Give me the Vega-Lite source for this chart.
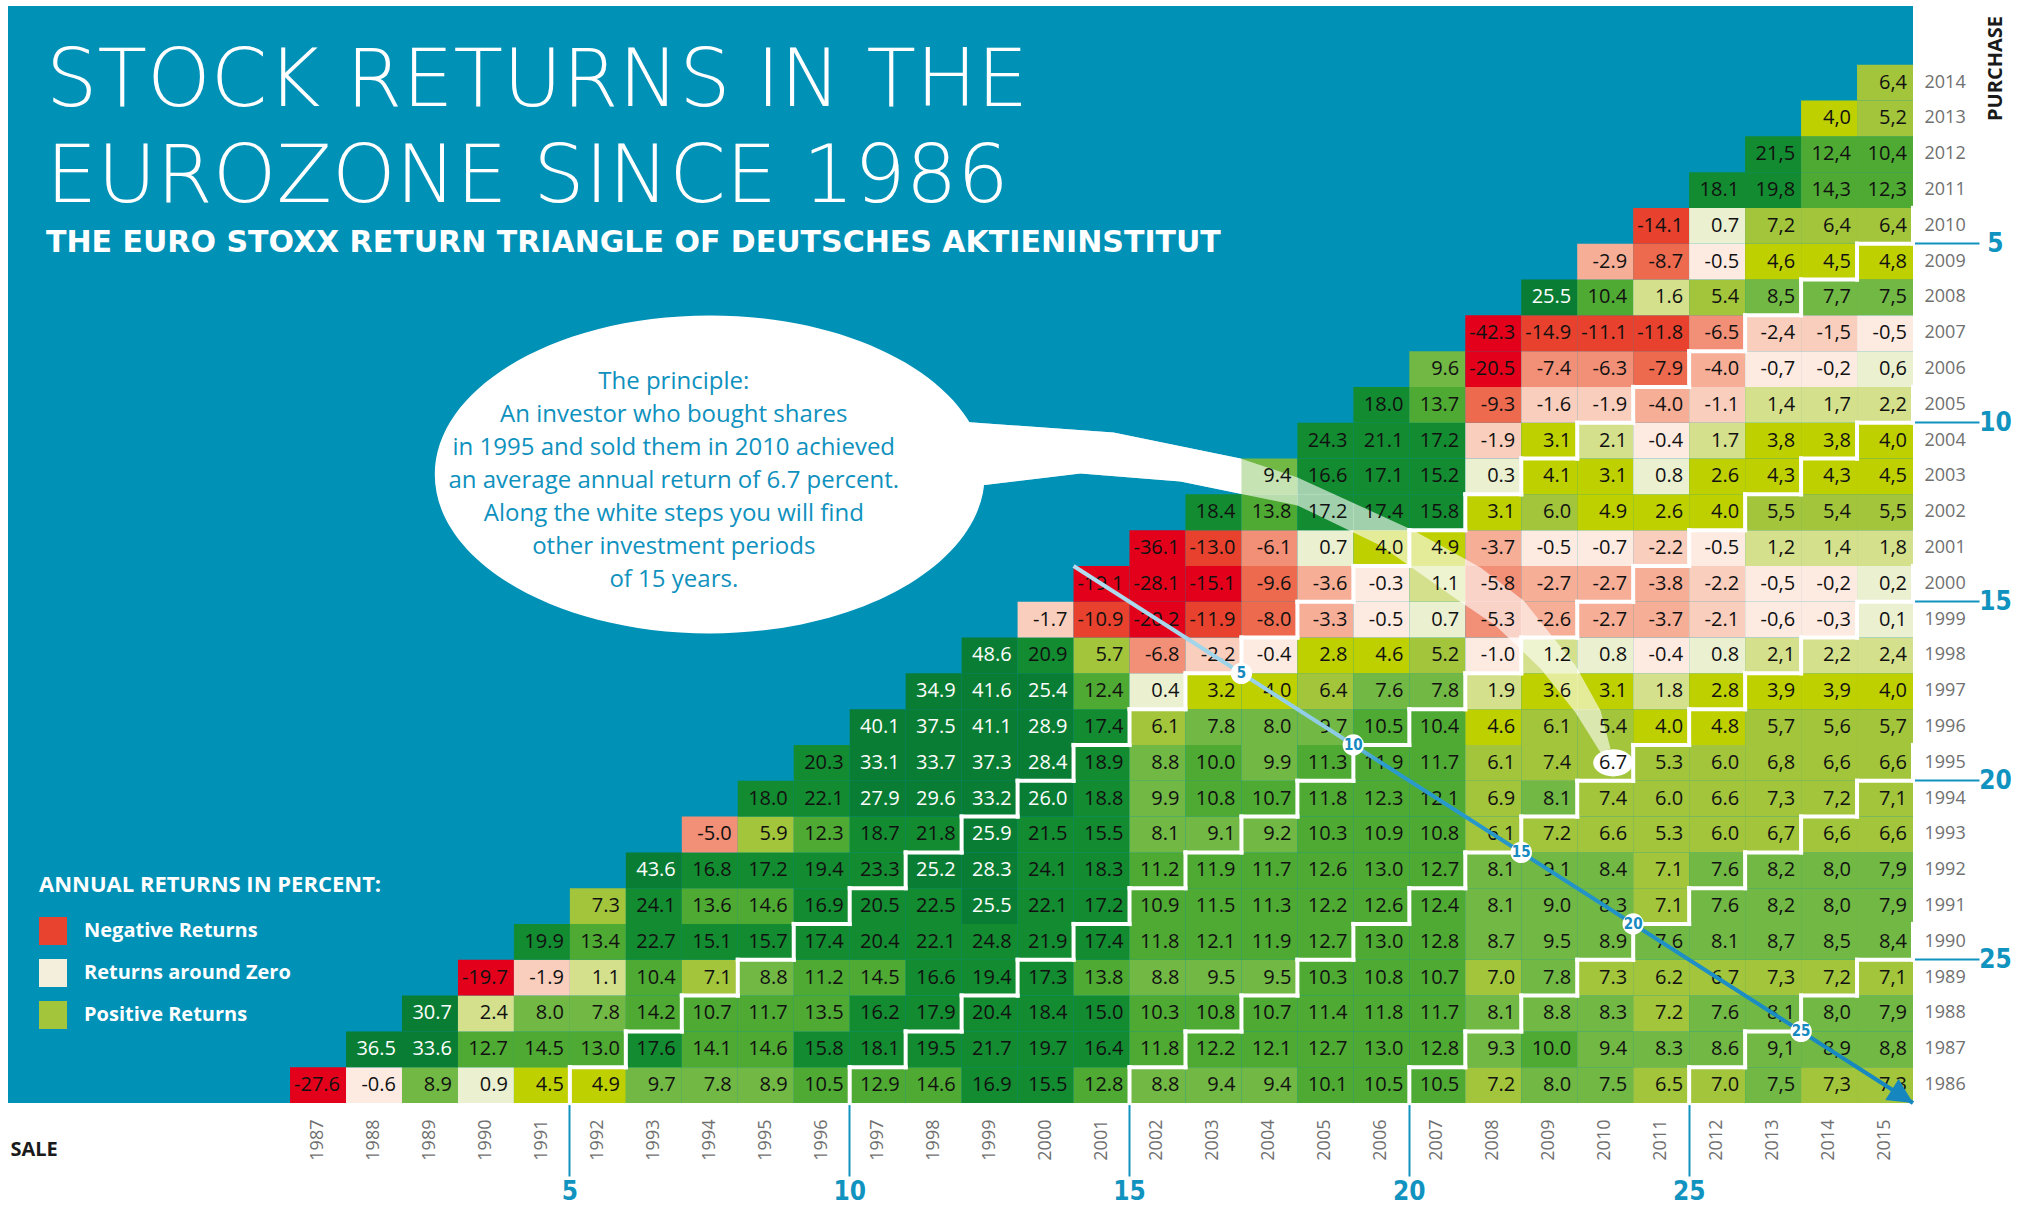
{
"$schema":"https://vega.github.io/schema/vega-lite/v6.json",
"width":1905,"height":1097,
"padding":{"left":8,"top":6,"right":0,"bottom":0},
"background":"white",
"view":{"fill":"#0091b7","stroke":null},
"title":{"text":["STOCK RETURNS IN THE","EUROZONE SINCE 1986"],"subtitle":"THE EURO STOXX RETURN TRIANGLE OF DEUTSCHES AKTIENINSTITUT","anchor":"start","frame":"group","orient":"top","offset":-253,"dx":38,"font":"DejaVu Sans","fontSize":81,"fontWeight":200,"color":"white","lineHeight":96,"subtitleFont":"DejaVu Sans","subtitleFontSize":30,"subtitleFontWeight":"bold","subtitleColor":"white","subtitlePadding":9},
"datasets":{
"steps":[{"k":"5","s":2003,"p":1997},{"k":"10","s":2005,"p":1995},{"k":"15","s":2008,"p":1992},{"k":"20","s":2010,"p":1990},{"k":"25","s":2013,"p":1987}],
"cells":[
{"p":1986,"s":1987,"v":-27.6,"t":"-27.6"},{"p":1986,"s":1988,"v":-0.6,"t":"-0.6"},{"p":1986,"s":1989,"v":8.9,"t":"8.9"},{"p":1986,"s":1990,"v":0.9,"t":"0.9"},{"p":1986,"s":1991,"v":4.5,"t":"4.5"},{"p":1986,"s":1992,"v":4.9,"t":"4.9"},{"p":1986,"s":1993,"v":9.7,"t":"9.7"},{"p":1986,"s":1994,"v":7.8,"t":"7.8"},{"p":1986,"s":1995,"v":8.9,"t":"8.9"},{"p":1986,"s":1996,"v":10.5,"t":"10.5"},{"p":1986,"s":1997,"v":12.9,"t":"12.9"},{"p":1986,"s":1998,"v":14.6,"t":"14.6"},{"p":1986,"s":1999,"v":16.9,"t":"16.9"},{"p":1986,"s":2000,"v":15.5,"t":"15.5"},{"p":1986,"s":2001,"v":12.8,"t":"12.8"},{"p":1986,"s":2002,"v":8.8,"t":"8.8"},{"p":1986,"s":2003,"v":9.4,"t":"9.4"},{"p":1986,"s":2004,"v":9.4,"t":"9.4"},{"p":1986,"s":2005,"v":10.1,"t":"10.1"},{"p":1986,"s":2006,"v":10.5,"t":"10.5"},{"p":1986,"s":2007,"v":10.5,"t":"10.5"},{"p":1986,"s":2008,"v":7.2,"t":"7.2"},{"p":1986,"s":2009,"v":8.0,"t":"8.0"},{"p":1986,"s":2010,"v":7.5,"t":"7.5"},{"p":1986,"s":2011,"v":6.5,"t":"6.5"},{"p":1986,"s":2012,"v":7.0,"t":"7.0"},{"p":1986,"s":2013,"v":7.5,"t":"7,5"},{"p":1986,"s":2014,"v":7.3,"t":"7,3"},{"p":1986,"s":2015,"v":7.3,"t":"7,3"},
{"p":1987,"s":1988,"v":36.5,"t":"36.5"},{"p":1987,"s":1989,"v":33.6,"t":"33.6"},{"p":1987,"s":1990,"v":12.7,"t":"12.7"},{"p":1987,"s":1991,"v":14.5,"t":"14.5"},{"p":1987,"s":1992,"v":13.0,"t":"13.0"},{"p":1987,"s":1993,"v":17.6,"t":"17.6"},{"p":1987,"s":1994,"v":14.1,"t":"14.1"},{"p":1987,"s":1995,"v":14.6,"t":"14.6"},{"p":1987,"s":1996,"v":15.8,"t":"15.8"},{"p":1987,"s":1997,"v":18.1,"t":"18.1"},{"p":1987,"s":1998,"v":19.5,"t":"19.5"},{"p":1987,"s":1999,"v":21.7,"t":"21.7"},{"p":1987,"s":2000,"v":19.7,"t":"19.7"},{"p":1987,"s":2001,"v":16.4,"t":"16.4"},{"p":1987,"s":2002,"v":11.8,"t":"11.8"},{"p":1987,"s":2003,"v":12.2,"t":"12.2"},{"p":1987,"s":2004,"v":12.1,"t":"12.1"},{"p":1987,"s":2005,"v":12.7,"t":"12.7"},{"p":1987,"s":2006,"v":13.0,"t":"13.0"},{"p":1987,"s":2007,"v":12.8,"t":"12.8"},{"p":1987,"s":2008,"v":9.3,"t":"9.3"},{"p":1987,"s":2009,"v":10.0,"t":"10.0"},{"p":1987,"s":2010,"v":9.4,"t":"9.4"},{"p":1987,"s":2011,"v":8.3,"t":"8.3"},{"p":1987,"s":2012,"v":8.6,"t":"8.6"},{"p":1987,"s":2013,"v":9.1,"t":"9,1"},{"p":1987,"s":2014,"v":8.9,"t":"8,9"},{"p":1987,"s":2015,"v":8.8,"t":"8,8"},
{"p":1988,"s":1989,"v":30.7,"t":"30.7"},{"p":1988,"s":1990,"v":2.4,"t":"2.4"},{"p":1988,"s":1991,"v":8.0,"t":"8.0"},{"p":1988,"s":1992,"v":7.8,"t":"7.8"},{"p":1988,"s":1993,"v":14.2,"t":"14.2"},{"p":1988,"s":1994,"v":10.7,"t":"10.7"},{"p":1988,"s":1995,"v":11.7,"t":"11.7"},{"p":1988,"s":1996,"v":13.5,"t":"13.5"},{"p":1988,"s":1997,"v":16.2,"t":"16.2"},{"p":1988,"s":1998,"v":17.9,"t":"17.9"},{"p":1988,"s":1999,"v":20.4,"t":"20.4"},{"p":1988,"s":2000,"v":18.4,"t":"18.4"},{"p":1988,"s":2001,"v":15.0,"t":"15.0"},{"p":1988,"s":2002,"v":10.3,"t":"10.3"},{"p":1988,"s":2003,"v":10.8,"t":"10.8"},{"p":1988,"s":2004,"v":10.7,"t":"10.7"},{"p":1988,"s":2005,"v":11.4,"t":"11.4"},{"p":1988,"s":2006,"v":11.8,"t":"11.8"},{"p":1988,"s":2007,"v":11.7,"t":"11.7"},{"p":1988,"s":2008,"v":8.1,"t":"8.1"},{"p":1988,"s":2009,"v":8.8,"t":"8.8"},{"p":1988,"s":2010,"v":8.3,"t":"8.3"},{"p":1988,"s":2011,"v":7.2,"t":"7.2"},{"p":1988,"s":2012,"v":7.6,"t":"7.6"},{"p":1988,"s":2013,"v":8.1,"t":"8,1"},{"p":1988,"s":2014,"v":8.0,"t":"8,0"},{"p":1988,"s":2015,"v":7.9,"t":"7,9"},
{"p":1989,"s":1990,"v":-19.7,"t":"-19.7"},{"p":1989,"s":1991,"v":-1.9,"t":"-1.9"},{"p":1989,"s":1992,"v":1.1,"t":"1.1"},{"p":1989,"s":1993,"v":10.4,"t":"10.4"},{"p":1989,"s":1994,"v":7.1,"t":"7.1"},{"p":1989,"s":1995,"v":8.8,"t":"8.8"},{"p":1989,"s":1996,"v":11.2,"t":"11.2"},{"p":1989,"s":1997,"v":14.5,"t":"14.5"},{"p":1989,"s":1998,"v":16.6,"t":"16.6"},{"p":1989,"s":1999,"v":19.4,"t":"19.4"},{"p":1989,"s":2000,"v":17.3,"t":"17.3"},{"p":1989,"s":2001,"v":13.8,"t":"13.8"},{"p":1989,"s":2002,"v":8.8,"t":"8.8"},{"p":1989,"s":2003,"v":9.5,"t":"9.5"},{"p":1989,"s":2004,"v":9.5,"t":"9.5"},{"p":1989,"s":2005,"v":10.3,"t":"10.3"},{"p":1989,"s":2006,"v":10.8,"t":"10.8"},{"p":1989,"s":2007,"v":10.7,"t":"10.7"},{"p":1989,"s":2008,"v":7.0,"t":"7.0"},{"p":1989,"s":2009,"v":7.8,"t":"7.8"},{"p":1989,"s":2010,"v":7.3,"t":"7.3"},{"p":1989,"s":2011,"v":6.2,"t":"6.2"},{"p":1989,"s":2012,"v":6.7,"t":"6.7"},{"p":1989,"s":2013,"v":7.3,"t":"7,3"},{"p":1989,"s":2014,"v":7.2,"t":"7,2"},{"p":1989,"s":2015,"v":7.1,"t":"7,1"},
{"p":1990,"s":1991,"v":19.9,"t":"19.9"},{"p":1990,"s":1992,"v":13.4,"t":"13.4"},{"p":1990,"s":1993,"v":22.7,"t":"22.7"},{"p":1990,"s":1994,"v":15.1,"t":"15.1"},{"p":1990,"s":1995,"v":15.7,"t":"15.7"},{"p":1990,"s":1996,"v":17.4,"t":"17.4"},{"p":1990,"s":1997,"v":20.4,"t":"20.4"},{"p":1990,"s":1998,"v":22.1,"t":"22.1"},{"p":1990,"s":1999,"v":24.8,"t":"24.8"},{"p":1990,"s":2000,"v":21.9,"t":"21.9"},{"p":1990,"s":2001,"v":17.4,"t":"17.4"},{"p":1990,"s":2002,"v":11.8,"t":"11.8"},{"p":1990,"s":2003,"v":12.1,"t":"12.1"},{"p":1990,"s":2004,"v":11.9,"t":"11.9"},{"p":1990,"s":2005,"v":12.7,"t":"12.7"},{"p":1990,"s":2006,"v":13.0,"t":"13.0"},{"p":1990,"s":2007,"v":12.8,"t":"12.8"},{"p":1990,"s":2008,"v":8.7,"t":"8.7"},{"p":1990,"s":2009,"v":9.5,"t":"9.5"},{"p":1990,"s":2010,"v":8.9,"t":"8.9"},{"p":1990,"s":2011,"v":7.6,"t":"7.6"},{"p":1990,"s":2012,"v":8.1,"t":"8.1"},{"p":1990,"s":2013,"v":8.7,"t":"8,7"},{"p":1990,"s":2014,"v":8.5,"t":"8,5"},{"p":1990,"s":2015,"v":8.4,"t":"8,4"},
{"p":1991,"s":1992,"v":7.3,"t":"7.3"},{"p":1991,"s":1993,"v":24.1,"t":"24.1"},{"p":1991,"s":1994,"v":13.6,"t":"13.6"},{"p":1991,"s":1995,"v":14.6,"t":"14.6"},{"p":1991,"s":1996,"v":16.9,"t":"16.9"},{"p":1991,"s":1997,"v":20.5,"t":"20.5"},{"p":1991,"s":1998,"v":22.5,"t":"22.5"},{"p":1991,"s":1999,"v":25.5,"t":"25.5"},{"p":1991,"s":2000,"v":22.1,"t":"22.1"},{"p":1991,"s":2001,"v":17.2,"t":"17.2"},{"p":1991,"s":2002,"v":10.9,"t":"10.9"},{"p":1991,"s":2003,"v":11.5,"t":"11.5"},{"p":1991,"s":2004,"v":11.3,"t":"11.3"},{"p":1991,"s":2005,"v":12.2,"t":"12.2"},{"p":1991,"s":2006,"v":12.6,"t":"12.6"},{"p":1991,"s":2007,"v":12.4,"t":"12.4"},{"p":1991,"s":2008,"v":8.1,"t":"8.1"},{"p":1991,"s":2009,"v":9.0,"t":"9.0"},{"p":1991,"s":2010,"v":8.3,"t":"8.3"},{"p":1991,"s":2011,"v":7.1,"t":"7.1"},{"p":1991,"s":2012,"v":7.6,"t":"7.6"},{"p":1991,"s":2013,"v":8.2,"t":"8,2"},{"p":1991,"s":2014,"v":8.0,"t":"8,0"},{"p":1991,"s":2015,"v":7.9,"t":"7,9"},
{"p":1992,"s":1993,"v":43.6,"t":"43.6"},{"p":1992,"s":1994,"v":16.8,"t":"16.8"},{"p":1992,"s":1995,"v":17.2,"t":"17.2"},{"p":1992,"s":1996,"v":19.4,"t":"19.4"},{"p":1992,"s":1997,"v":23.3,"t":"23.3"},{"p":1992,"s":1998,"v":25.2,"t":"25.2"},{"p":1992,"s":1999,"v":28.3,"t":"28.3"},{"p":1992,"s":2000,"v":24.1,"t":"24.1"},{"p":1992,"s":2001,"v":18.3,"t":"18.3"},{"p":1992,"s":2002,"v":11.2,"t":"11.2"},{"p":1992,"s":2003,"v":11.9,"t":"11.9"},{"p":1992,"s":2004,"v":11.7,"t":"11.7"},{"p":1992,"s":2005,"v":12.6,"t":"12.6"},{"p":1992,"s":2006,"v":13.0,"t":"13.0"},{"p":1992,"s":2007,"v":12.7,"t":"12.7"},{"p":1992,"s":2008,"v":8.1,"t":"8.1"},{"p":1992,"s":2009,"v":9.1,"t":"9.1"},{"p":1992,"s":2010,"v":8.4,"t":"8.4"},{"p":1992,"s":2011,"v":7.1,"t":"7.1"},{"p":1992,"s":2012,"v":7.6,"t":"7.6"},{"p":1992,"s":2013,"v":8.2,"t":"8,2"},{"p":1992,"s":2014,"v":8.0,"t":"8,0"},{"p":1992,"s":2015,"v":7.9,"t":"7,9"},
{"p":1993,"s":1994,"v":-5.0,"t":"-5.0"},{"p":1993,"s":1995,"v":5.9,"t":"5.9"},{"p":1993,"s":1996,"v":12.3,"t":"12.3"},{"p":1993,"s":1997,"v":18.7,"t":"18.7"},{"p":1993,"s":1998,"v":21.8,"t":"21.8"},{"p":1993,"s":1999,"v":25.9,"t":"25.9"},{"p":1993,"s":2000,"v":21.5,"t":"21.5"},{"p":1993,"s":2001,"v":15.5,"t":"15.5"},{"p":1993,"s":2002,"v":8.1,"t":"8.1"},{"p":1993,"s":2003,"v":9.1,"t":"9.1"},{"p":1993,"s":2004,"v":9.2,"t":"9.2"},{"p":1993,"s":2005,"v":10.3,"t":"10.3"},{"p":1993,"s":2006,"v":10.9,"t":"10.9"},{"p":1993,"s":2007,"v":10.8,"t":"10.8"},{"p":1993,"s":2008,"v":6.1,"t":"6.1"},{"p":1993,"s":2009,"v":7.2,"t":"7.2"},{"p":1993,"s":2010,"v":6.6,"t":"6.6"},{"p":1993,"s":2011,"v":5.3,"t":"5.3"},{"p":1993,"s":2012,"v":6.0,"t":"6.0"},{"p":1993,"s":2013,"v":6.7,"t":"6,7"},{"p":1993,"s":2014,"v":6.6,"t":"6,6"},{"p":1993,"s":2015,"v":6.6,"t":"6,6"},
{"p":1994,"s":1995,"v":18.0,"t":"18.0"},{"p":1994,"s":1996,"v":22.1,"t":"22.1"},{"p":1994,"s":1997,"v":27.9,"t":"27.9"},{"p":1994,"s":1998,"v":29.6,"t":"29.6"},{"p":1994,"s":1999,"v":33.2,"t":"33.2"},{"p":1994,"s":2000,"v":26.0,"t":"26.0"},{"p":1994,"s":2001,"v":18.8,"t":"18.8"},{"p":1994,"s":2002,"v":9.9,"t":"9.9"},{"p":1994,"s":2003,"v":10.8,"t":"10.8"},{"p":1994,"s":2004,"v":10.7,"t":"10.7"},{"p":1994,"s":2005,"v":11.8,"t":"11.8"},{"p":1994,"s":2006,"v":12.3,"t":"12.3"},{"p":1994,"s":2007,"v":12.1,"t":"12.1"},{"p":1994,"s":2008,"v":6.9,"t":"6.9"},{"p":1994,"s":2009,"v":8.1,"t":"8.1"},{"p":1994,"s":2010,"v":7.4,"t":"7.4"},{"p":1994,"s":2011,"v":6.0,"t":"6.0"},{"p":1994,"s":2012,"v":6.6,"t":"6.6"},{"p":1994,"s":2013,"v":7.3,"t":"7,3"},{"p":1994,"s":2014,"v":7.2,"t":"7,2"},{"p":1994,"s":2015,"v":7.1,"t":"7,1"},
{"p":1995,"s":1996,"v":20.3,"t":"20.3"},{"p":1995,"s":1997,"v":33.1,"t":"33.1"},{"p":1995,"s":1998,"v":33.7,"t":"33.7"},{"p":1995,"s":1999,"v":37.3,"t":"37.3"},{"p":1995,"s":2000,"v":28.4,"t":"28.4"},{"p":1995,"s":2001,"v":18.9,"t":"18.9"},{"p":1995,"s":2002,"v":8.8,"t":"8.8"},{"p":1995,"s":2003,"v":10.0,"t":"10.0"},{"p":1995,"s":2004,"v":9.9,"t":"9.9"},{"p":1995,"s":2005,"v":11.3,"t":"11.3"},{"p":1995,"s":2006,"v":11.9,"t":"11.9"},{"p":1995,"s":2007,"v":11.7,"t":"11.7"},{"p":1995,"s":2008,"v":6.1,"t":"6.1"},{"p":1995,"s":2009,"v":7.4,"t":"7.4"},{"p":1995,"s":2010,"v":6.7,"t":"6.7"},{"p":1995,"s":2011,"v":5.3,"t":"5.3"},{"p":1995,"s":2012,"v":6.0,"t":"6.0"},{"p":1995,"s":2013,"v":6.8,"t":"6,8"},{"p":1995,"s":2014,"v":6.6,"t":"6,6"},{"p":1995,"s":2015,"v":6.6,"t":"6,6"},
{"p":1996,"s":1997,"v":40.1,"t":"40.1"},{"p":1996,"s":1998,"v":37.5,"t":"37.5"},{"p":1996,"s":1999,"v":41.1,"t":"41.1"},{"p":1996,"s":2000,"v":28.9,"t":"28.9"},{"p":1996,"s":2001,"v":17.4,"t":"17.4"},{"p":1996,"s":2002,"v":6.1,"t":"6.1"},{"p":1996,"s":2003,"v":7.8,"t":"7.8"},{"p":1996,"s":2004,"v":8.0,"t":"8.0"},{"p":1996,"s":2005,"v":9.7,"t":"9.7"},{"p":1996,"s":2006,"v":10.5,"t":"10.5"},{"p":1996,"s":2007,"v":10.4,"t":"10.4"},{"p":1996,"s":2008,"v":4.6,"t":"4.6"},{"p":1996,"s":2009,"v":6.1,"t":"6.1"},{"p":1996,"s":2010,"v":5.4,"t":"5.4"},{"p":1996,"s":2011,"v":4.0,"t":"4.0"},{"p":1996,"s":2012,"v":4.8,"t":"4.8"},{"p":1996,"s":2013,"v":5.7,"t":"5,7"},{"p":1996,"s":2014,"v":5.6,"t":"5,6"},{"p":1996,"s":2015,"v":5.7,"t":"5,7"},
{"p":1997,"s":1998,"v":34.9,"t":"34.9"},{"p":1997,"s":1999,"v":41.6,"t":"41.6"},{"p":1997,"s":2000,"v":25.4,"t":"25.4"},{"p":1997,"s":2001,"v":12.4,"t":"12.4"},{"p":1997,"s":2002,"v":0.4,"t":"0.4"},{"p":1997,"s":2003,"v":3.2,"t":"3.2"},{"p":1997,"s":2004,"v":4.0,"t":"4.0"},{"p":1997,"s":2005,"v":6.4,"t":"6.4"},{"p":1997,"s":2006,"v":7.6,"t":"7.6"},{"p":1997,"s":2007,"v":7.8,"t":"7.8"},{"p":1997,"s":2008,"v":1.9,"t":"1.9"},{"p":1997,"s":2009,"v":3.6,"t":"3.6"},{"p":1997,"s":2010,"v":3.1,"t":"3.1"},{"p":1997,"s":2011,"v":1.8,"t":"1.8"},{"p":1997,"s":2012,"v":2.8,"t":"2.8"},{"p":1997,"s":2013,"v":3.9,"t":"3,9"},{"p":1997,"s":2014,"v":3.9,"t":"3,9"},{"p":1997,"s":2015,"v":4.0,"t":"4,0"},
{"p":1998,"s":1999,"v":48.6,"t":"48.6"},{"p":1998,"s":2000,"v":20.9,"t":"20.9"},{"p":1998,"s":2001,"v":5.7,"t":"5.7"},{"p":1998,"s":2002,"v":-6.8,"t":"-6.8"},{"p":1998,"s":2003,"v":-2.2,"t":"-2.2"},{"p":1998,"s":2004,"v":-0.4,"t":"-0.4"},{"p":1998,"s":2005,"v":2.8,"t":"2.8"},{"p":1998,"s":2006,"v":4.6,"t":"4.6"},{"p":1998,"s":2007,"v":5.2,"t":"5.2"},{"p":1998,"s":2008,"v":-1.0,"t":"-1.0"},{"p":1998,"s":2009,"v":1.2,"t":"1.2"},{"p":1998,"s":2010,"v":0.8,"t":"0.8"},{"p":1998,"s":2011,"v":-0.4,"t":"-0.4"},{"p":1998,"s":2012,"v":0.8,"t":"0.8"},{"p":1998,"s":2013,"v":2.1,"t":"2,1"},{"p":1998,"s":2014,"v":2.2,"t":"2,2"},{"p":1998,"s":2015,"v":2.4,"t":"2,4"},
{"p":1999,"s":2000,"v":-1.7,"t":"-1.7"},{"p":1999,"s":2001,"v":-10.9,"t":"-10.9"},{"p":1999,"s":2002,"v":-20.2,"t":"-20.2"},{"p":1999,"s":2003,"v":-11.9,"t":"-11.9"},{"p":1999,"s":2004,"v":-8.0,"t":"-8.0"},{"p":1999,"s":2005,"v":-3.3,"t":"-3.3"},{"p":1999,"s":2006,"v":-0.5,"t":"-0.5"},{"p":1999,"s":2007,"v":0.7,"t":"0.7"},{"p":1999,"s":2008,"v":-5.3,"t":"-5.3"},{"p":1999,"s":2009,"v":-2.6,"t":"-2.6"},{"p":1999,"s":2010,"v":-2.7,"t":"-2.7"},{"p":1999,"s":2011,"v":-3.7,"t":"-3.7"},{"p":1999,"s":2012,"v":-2.1,"t":"-2.1"},{"p":1999,"s":2013,"v":-0.6,"t":"-0,6"},{"p":1999,"s":2014,"v":-0.3,"t":"-0,3"},{"p":1999,"s":2015,"v":0.1,"t":"0,1"},
{"p":2000,"s":2001,"v":-19.1,"t":"-19.1"},{"p":2000,"s":2002,"v":-28.1,"t":"-28.1"},{"p":2000,"s":2003,"v":-15.1,"t":"-15.1"},{"p":2000,"s":2004,"v":-9.6,"t":"-9.6"},{"p":2000,"s":2005,"v":-3.6,"t":"-3.6"},{"p":2000,"s":2006,"v":-0.3,"t":"-0.3"},{"p":2000,"s":2007,"v":1.1,"t":"1.1"},{"p":2000,"s":2008,"v":-5.8,"t":"-5.8"},{"p":2000,"s":2009,"v":-2.7,"t":"-2.7"},{"p":2000,"s":2010,"v":-2.7,"t":"-2.7"},{"p":2000,"s":2011,"v":-3.8,"t":"-3.8"},{"p":2000,"s":2012,"v":-2.2,"t":"-2.2"},{"p":2000,"s":2013,"v":-0.5,"t":"-0,5"},{"p":2000,"s":2014,"v":-0.2,"t":"-0,2"},{"p":2000,"s":2015,"v":0.2,"t":"0,2"},
{"p":2001,"s":2002,"v":-36.1,"t":"-36.1"},{"p":2001,"s":2003,"v":-13.0,"t":"-13.0"},{"p":2001,"s":2004,"v":-6.1,"t":"-6.1"},{"p":2001,"s":2005,"v":0.7,"t":"0.7"},{"p":2001,"s":2006,"v":4.0,"t":"4.0"},{"p":2001,"s":2007,"v":4.9,"t":"4.9"},{"p":2001,"s":2008,"v":-3.7,"t":"-3.7"},{"p":2001,"s":2009,"v":-0.5,"t":"-0.5"},{"p":2001,"s":2010,"v":-0.7,"t":"-0.7"},{"p":2001,"s":2011,"v":-2.2,"t":"-2.2"},{"p":2001,"s":2012,"v":-0.5,"t":"-0.5"},{"p":2001,"s":2013,"v":1.2,"t":"1,2"},{"p":2001,"s":2014,"v":1.4,"t":"1,4"},{"p":2001,"s":2015,"v":1.8,"t":"1,8"},
{"p":2002,"s":2003,"v":18.4,"t":"18.4"},{"p":2002,"s":2004,"v":13.8,"t":"13.8"},{"p":2002,"s":2005,"v":17.2,"t":"17.2"},{"p":2002,"s":2006,"v":17.4,"t":"17.4"},{"p":2002,"s":2007,"v":15.8,"t":"15.8"},{"p":2002,"s":2008,"v":3.1,"t":"3.1"},{"p":2002,"s":2009,"v":6.0,"t":"6.0"},{"p":2002,"s":2010,"v":4.9,"t":"4.9"},{"p":2002,"s":2011,"v":2.6,"t":"2.6"},{"p":2002,"s":2012,"v":4.0,"t":"4.0"},{"p":2002,"s":2013,"v":5.5,"t":"5,5"},{"p":2002,"s":2014,"v":5.4,"t":"5,4"},{"p":2002,"s":2015,"v":5.5,"t":"5,5"},
{"p":2003,"s":2004,"v":9.4,"t":"9.4"},{"p":2003,"s":2005,"v":16.6,"t":"16.6"},{"p":2003,"s":2006,"v":17.1,"t":"17.1"},{"p":2003,"s":2007,"v":15.2,"t":"15.2"},{"p":2003,"s":2008,"v":0.3,"t":"0.3"},{"p":2003,"s":2009,"v":4.1,"t":"4.1"},{"p":2003,"s":2010,"v":3.1,"t":"3.1"},{"p":2003,"s":2011,"v":0.8,"t":"0.8"},{"p":2003,"s":2012,"v":2.6,"t":"2.6"},{"p":2003,"s":2013,"v":4.3,"t":"4,3"},{"p":2003,"s":2014,"v":4.3,"t":"4,3"},{"p":2003,"s":2015,"v":4.5,"t":"4,5"},
{"p":2004,"s":2005,"v":24.3,"t":"24.3"},{"p":2004,"s":2006,"v":21.1,"t":"21.1"},{"p":2004,"s":2007,"v":17.2,"t":"17.2"},{"p":2004,"s":2008,"v":-1.9,"t":"-1.9"},{"p":2004,"s":2009,"v":3.1,"t":"3.1"},{"p":2004,"s":2010,"v":2.1,"t":"2.1"},{"p":2004,"s":2011,"v":-0.4,"t":"-0.4"},{"p":2004,"s":2012,"v":1.7,"t":"1.7"},{"p":2004,"s":2013,"v":3.8,"t":"3,8"},{"p":2004,"s":2014,"v":3.8,"t":"3,8"},{"p":2004,"s":2015,"v":4.0,"t":"4,0"},
{"p":2005,"s":2006,"v":18.0,"t":"18.0"},{"p":2005,"s":2007,"v":13.7,"t":"13.7"},{"p":2005,"s":2008,"v":-9.3,"t":"-9.3"},{"p":2005,"s":2009,"v":-1.6,"t":"-1.6"},{"p":2005,"s":2010,"v":-1.9,"t":"-1.9"},{"p":2005,"s":2011,"v":-4.0,"t":"-4.0"},{"p":2005,"s":2012,"v":-1.1,"t":"-1.1"},{"p":2005,"s":2013,"v":1.4,"t":"1,4"},{"p":2005,"s":2014,"v":1.7,"t":"1,7"},{"p":2005,"s":2015,"v":2.2,"t":"2,2"},
{"p":2006,"s":2007,"v":9.6,"t":"9.6"},{"p":2006,"s":2008,"v":-20.5,"t":"-20.5"},{"p":2006,"s":2009,"v":-7.4,"t":"-7.4"},{"p":2006,"s":2010,"v":-6.3,"t":"-6.3"},{"p":2006,"s":2011,"v":-7.9,"t":"-7.9"},{"p":2006,"s":2012,"v":-4.0,"t":"-4.0"},{"p":2006,"s":2013,"v":-0.7,"t":"-0,7"},{"p":2006,"s":2014,"v":-0.2,"t":"-0,2"},{"p":2006,"s":2015,"v":0.6,"t":"0,6"},
{"p":2007,"s":2008,"v":-42.3,"t":"-42.3"},{"p":2007,"s":2009,"v":-14.9,"t":"-14.9"},{"p":2007,"s":2010,"v":-11.1,"t":"-11.1"},{"p":2007,"s":2011,"v":-11.8,"t":"-11.8"},{"p":2007,"s":2012,"v":-6.5,"t":"-6.5"},{"p":2007,"s":2013,"v":-2.4,"t":"-2,4"},{"p":2007,"s":2014,"v":-1.5,"t":"-1,5"},{"p":2007,"s":2015,"v":-0.5,"t":"-0,5"},
{"p":2008,"s":2009,"v":25.5,"t":"25.5"},{"p":2008,"s":2010,"v":10.4,"t":"10.4"},{"p":2008,"s":2011,"v":1.6,"t":"1.6"},{"p":2008,"s":2012,"v":5.4,"t":"5.4"},{"p":2008,"s":2013,"v":8.5,"t":"8,5"},{"p":2008,"s":2014,"v":7.7,"t":"7,7"},{"p":2008,"s":2015,"v":7.5,"t":"7,5"},
{"p":2009,"s":2010,"v":-2.9,"t":"-2.9"},{"p":2009,"s":2011,"v":-8.7,"t":"-8.7"},{"p":2009,"s":2012,"v":-0.5,"t":"-0.5"},{"p":2009,"s":2013,"v":4.6,"t":"4,6"},{"p":2009,"s":2014,"v":4.5,"t":"4,5"},{"p":2009,"s":2015,"v":4.8,"t":"4,8"},
{"p":2010,"s":2011,"v":-14.1,"t":"-14.1"},{"p":2010,"s":2012,"v":0.7,"t":"0.7"},{"p":2010,"s":2013,"v":7.2,"t":"7,2"},{"p":2010,"s":2014,"v":6.4,"t":"6,4"},{"p":2010,"s":2015,"v":6.4,"t":"6,4"},
{"p":2011,"s":2012,"v":18.1,"t":"18.1"},{"p":2011,"s":2013,"v":19.8,"t":"19,8"},{"p":2011,"s":2014,"v":14.3,"t":"14,3"},{"p":2011,"s":2015,"v":12.3,"t":"12,3"},
{"p":2012,"s":2013,"v":21.5,"t":"21,5"},{"p":2012,"s":2014,"v":12.4,"t":"12,4"},{"p":2012,"s":2015,"v":10.4,"t":"10,4"},
{"p":2013,"s":2014,"v":4.0,"t":"4,0"},{"p":2013,"s":2015,"v":5.2,"t":"5,2"},
{"p":2014,"s":2015,"v":6.4,"t":"6,4"}
]},
"resolve":{"axis":{"x":"independent","y":"independent"}},
"layer":[
{"data":{"values":[{"s":1994,"p":2003}]},
 "mark":{"type":"point","shape":"M0.275,-0.002 C0.275,0.0858 0.1519,0.157 0,0.157 C-0.1519,0.157 -0.275,0.0858 -0.275,-0.002 C-0.275,-0.0898 -0.1519,-0.161 0,-0.161 C0.1519,-0.161 0.275,-0.0898 0.275,-0.002 Z M0.2357,-0.056 L0.4037,-0.044 L0.5307,-0.018 L0.5877,0.001 L0.7037,0.054 L0.7707,0.091 L0.8137,0.124 L0.8657,0.189 L0.8907,0.234 L0.9007,0.272 L0.8907,0.276 L0.8657,0.236 L0.8307,0.192 L0.7857,0.149 L0.7457,0.122 L0.6707,0.069 L0.5877,0.029 L0.4707,0.005 L0.3707,-0.003 L0.2707,0.009 L0.2407,0.024 Z","size":4000000,"filled":true,"fill":"white","opacity":1,"strokeWidth":0},
 "encoding":{"x":{"field":"s","type":"ordinal","axis":null},"y":{"field":"p","type":"ordinal","axis":null}}},
{"data":{"name":"cells"},
 "mark":{"type":"rect"},
 "encoding":{
  "x":{"field":"s","type":"ordinal","scale":{"domain":[1982,1983,1984,1985,1986,1987,1988,1989,1990,1991,1992,1993,1994,1995,1996,1997,1998,1999,2000,2001,2002,2003,2004,2005,2006,2007,2008,2009,2010,2011,2012,2013,2014,2015],"paddingInner":0,"paddingOuter":0.02,"align":1},
   "axis":{"orient":"bottom","values":[1987,1988,1989,1990,1991,1992,1993,1994,1995,1996,1997,1998,1999,2000,2001,2002,2003,2004,2005,2006,2007,2008,2009,2010,2011,2012,2013,2014,2015],"domain":false,"ticks":false,"grid":false,"labelAngle":-90,"labelFont":"Open Sans","labelFontSize":18,"labelColor":"#707070","labelPadding":16,"labelOverlap":false,"title":"SALE","titleFont":"Open Sans","titleFontSize":20,"titleFontWeight":"bold","titleColor":"#1a1a1a","titleX":2,"titleY":46,"titleAlign":"left","titleBaseline":"middle"}},
  "y":{"field":"p","type":"ordinal","scale":{"domain":[2014,2013,2012,2011,2010,2009,2008,2007,2006,2005,2004,2003,2002,2001,2000,1999,1998,1997,1996,1995,1994,1993,1992,1991,1990,1989,1988,1987,1986],"paddingInner":0,"paddingOuter":0.82,"align":1},
   "axis":{"orient":"right","domain":false,"ticks":false,"grid":false,"labelFont":"Open Sans","labelFontSize":18,"labelColor":"#707070","labelPadding":11,"labelAlign":"left","labelBaseline":"middle","labelOverlap":false,"title":"PURCHASE","titleFont":"Open Sans","titleFontSize":20,"titleFontWeight":"bold","titleColor":"#1a1a1a","titleAngle":270,"titleX":82,"titleY":62,"titleAlign":"center","titleBaseline":"middle"}},
  "fill":{"field":"v","type":"quantitative","legend":null,"scale":{"type":"threshold","domain":[-15,-10,-7.5,-4.5,-2.5,-1.05,0,1.05,2.5,5,7.5,10,15,25],"range":["#e3001b","#e8422e","#ed6a4f","#f18f77","#f6ae97","#f9cebd","#fdebe2","#ebf0d1","#d4e08b","#bfd000","#a3c53b","#71b844","#4faa33","#138b30","#0a7d34"]}}}},
{"data":{"values":[{"s":1994,"p":2003}]},
 "mark":{"type":"point","shape":"M0.2357,-0.056 L0.4037,-0.044 L0.5307,-0.018 L0.5877,0.001 L0.7037,0.054 L0.7707,0.091 L0.8137,0.124 L0.8657,0.189 L0.8907,0.234 L0.9007,0.272 L0.8907,0.276 L0.8657,0.236 L0.8307,0.192 L0.7857,0.149 L0.7457,0.122 L0.6707,0.069 L0.5877,0.029 L0.4707,0.005 L0.3707,-0.003 L0.2707,0.009 L0.2407,0.024 Z","size":4000000,"filled":true,"fill":"white","opacity":0.6,"strokeWidth":0},
 "encoding":{"x":{"field":"s","type":"ordinal","axis":null},"y":{"field":"p","type":"ordinal","axis":null}}},
{"data":{"name":"cells"},
 "transform":[{"filter":"indexof([5,10,15,20,25], datum.s - datum.p) >= 0"}],
 "mark":{"type":"tick","orient":"vertical","color":"white","size":40,"thickness":4,"opacity":1},
 "encoding":{
  "x":{"field":"s","type":"ordinal","bandPosition":1,
   "axis":{"orient":"bottom","values":[1991,1996,2001,2006,2011],"bandPosition":1,"domain":false,"grid":false,"ticks":true,"tickSize":73,"tickColor":"#1193bf","tickWidth":2,"labelAngle":0,"labelAlign":"center","labelBaseline":"top","labelPadding":2,"labelOffset":28,"labelFont":"DejaVu Sans Condensed, Roboto","labelFontSize":26,"labelFontWeight":"bold","labelColor":"#1193bf","labelOverlap":false,"labelExpr":"'' + (datum.value - 1986)","title":null}},
  "y":{"field":"p","type":"ordinal","axis":null}}},
{"data":{"name":"cells"},
 "transform":[{"filter":"indexof([6,11,16,21,26], datum.s - datum.p) >= 0"}],
 "mark":{"type":"tick","orient":"horizontal","color":"white","size":60,"thickness":4,"opacity":1},
 "encoding":{
  "x":{"field":"s","type":"ordinal","axis":null},
  "y":{"field":"p","type":"ordinal","bandPosition":0,
   "axis":{"orient":"right","values":[2009,2004,1999,1994,1989],"bandPosition":0,"domain":false,"grid":false,"ticks":true,"tickSize":66,"tickColor":"#1193bf","tickWidth":2,"labelAlign":"center","labelBaseline":"middle","labelPadding":16,"labelOffset":-18,"labelFont":"DejaVu Sans Condensed, Roboto","labelFontSize":26,"labelFontWeight":"bold","labelColor":"#1193bf","labelOverlap":false,"labelExpr":"'' + (2014 - datum.value)","title":null}}}},
{"data":{"values":[{"s":2010,"p":1995}]},
 "mark":{"type":"point","shape":"M1,0 C1,0.3756 0.5523,0.68 0,0.68 C-0.5523,0.68 -1,0.3756 -1,0 C-1,-0.3756 -0.5523,-0.68 0,-0.68 C0.5523,-0.68 1,-0.3756 1,0 Z","size":1600,"filled":true,"fill":"white","opacity":1,"strokeWidth":0,"xOffset":8},
 "encoding":{"x":{"field":"s","type":"ordinal","axis":null},"y":{"field":"p","type":"ordinal","axis":null}}},
{"data":{"name":"cells"},
 "mark":{"type":"text","align":"right","baseline":"middle","dx":-6,"font":"Open Sans","fontSize":20},
 "encoding":{
  "x":{"field":"s","type":"ordinal","bandPosition":1,"axis":null},
  "y":{"field":"p","type":"ordinal","axis":null},
  "text":{"field":"t","type":"nominal"},
  "color":{"condition":{"test":"datum.v >= 25","value":"white"},"value":"#111111"}}},
{"data":{"values":[{"s":2000,"p":2001},{"s":2015,"p":1986}]},
 "mark":{"type":"line","strokeWidth":4,"stroke":{"gradient":"linear","x1":0,"y1":0,"x2":1,"y2":1,"stops":[{"offset":0,"color":"#b4def0"},{"offset":0.32,"color":"#8ccbe4"},{"offset":0.37,"color":"#2b9bcd"},{"offset":1,"color":"#1587be"}]}},
 "encoding":{"x":{"field":"s","type":"ordinal","bandPosition":1,"axis":null},"y":{"field":"p","type":"ordinal","bandPosition":1,"axis":null}}},
{"data":{"values":[{"s":2015,"p":1986}]},
 "mark":{"type":"point","shape":"M0,0 L-1,-0.5 L-1,0.5 Z","size":2500,"angle":32.6,"filled":true,"fill":"#1587be","opacity":1,"strokeWidth":0},
 "encoding":{"x":{"field":"s","type":"ordinal","bandPosition":1,"axis":null},"y":{"field":"p","type":"ordinal","bandPosition":1,"axis":null}}},
{"data":{"name":"steps"},
 "mark":{"type":"point","shape":"circle","size":460,"filled":true,"fill":"white","opacity":1,"strokeWidth":0},
 "encoding":{"x":{"field":"s","type":"ordinal","bandPosition":1,"axis":null},"y":{"field":"p","type":"ordinal","bandPosition":0,"axis":null}}},
{"data":{"name":"steps"},
 "mark":{"type":"text","align":"center","baseline":"middle","font":"DejaVu Sans Condensed, Roboto","fontSize":15,"fontWeight":"bold","color":"#1589c0"},
 "encoding":{"x":{"field":"s","type":"ordinal","bandPosition":1,"axis":null},"y":{"field":"p","type":"ordinal","bandPosition":0,"axis":null},"text":{"field":"k","type":"nominal"}}},
{"data":{"values":[{"s":1994,"p":2003,"note":"The principle:\nAn investor who bought shares\nin 1995 and sold them in 2010 achieved\nan average annual return of 6.7 percent.\nAlong the white steps you will find\nother investment periods\nof 15 years."}]},
 "mark":{"type":"text","lineBreak":"\n","align":"center","baseline":"middle","font":"Open Sans","fontSize":24,"lineHeight":33,"color":"#0f91be","dx":-36,"dy":-94},
 "encoding":{"x":{"field":"s","type":"ordinal","axis":null},"y":{"field":"p","type":"ordinal","axis":null},"text":{"field":"note","type":"nominal"}}},
{"data":{"values":[{"cat":"Negative Returns"},{"cat":"Returns around Zero"},{"cat":"Positive Returns"}]},
 "transform":[{"filter":"datum.cat == 'none'"}],
 "mark":{"type":"square","opacity":1},
 "encoding":{"color":{"field":"cat","type":"nominal","scale":{"domain":["Negative Returns","Returns around Zero","Positive Returns"],"range":["#e8432e","#f4eedd","#a3c53b"]},
  "legend":{"orient":"none","legendX":31,"legendY":869,"title":"ANNUAL RETURNS IN PERCENT:","titleFont":"Open Sans","titleFontSize":22,"titleFontWeight":"bold","titleColor":"white","titlePadding":20,"titleLimit":700,"labelFont":"Open Sans","labelFontSize":20,"labelFontWeight":"bold","labelColor":"white","labelLimit":500,"symbolType":"square","symbolSize":784,"symbolStrokeWidth":0,"symbolOpacity":1,"rowPadding":14,"labelOffset":17}}}}
],
"config":{"view":{"fill":"#0091b7","stroke":null},"axis":{"grid":false}}
}
